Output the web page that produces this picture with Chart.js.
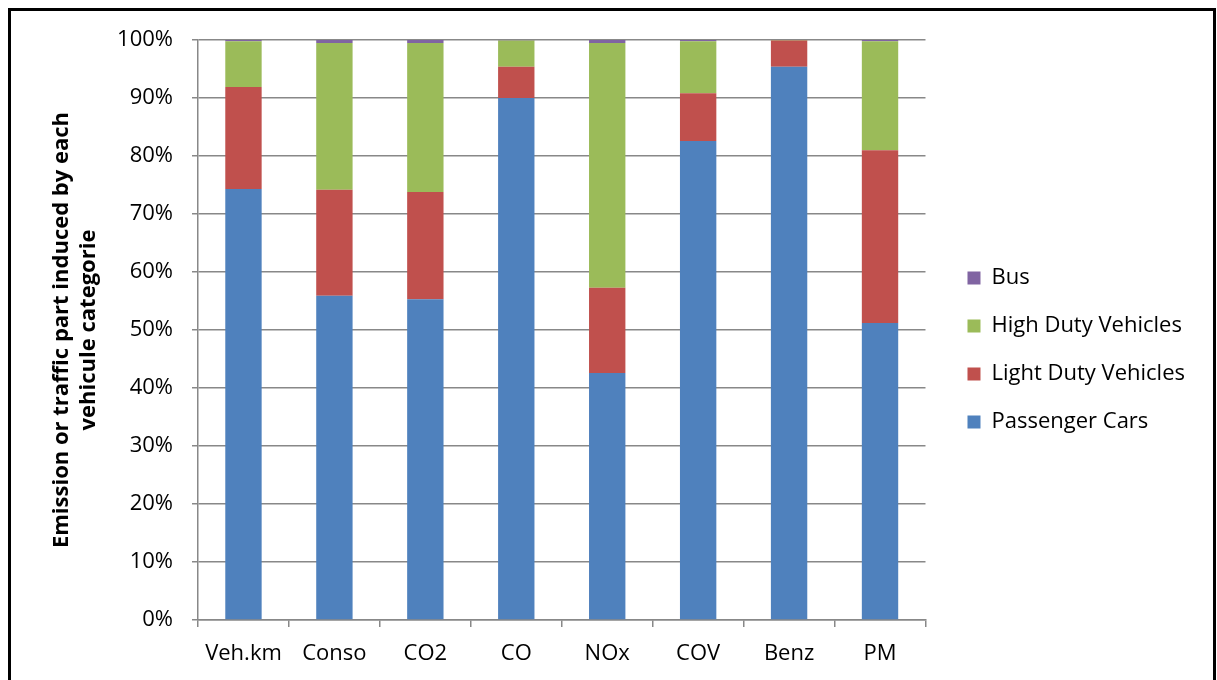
<!DOCTYPE html>
<html>
<head>
<meta charset="utf-8">
<script src="https://cdn.jsdelivr.net/npm/chart.js@4/dist/chart.umd.min.js"></script>
<style>
	html, body { margin: 0; padding: 0; background: #fff; overflow: hidden; }
	.frame {
		position: absolute; left: 8px; top: 8px; width: 1208px; height: 700px;
		border: 3px solid #000; box-sizing: border-box;
	}
	.wrap { position: absolute; left: 0; top: 0; width: 1217px; height: 680px; }
</style>
</head>
<body>
<div class="frame"></div>
<div class="wrap"><canvas id="mainChart"></canvas></div>
<script>
// categories and tick labels
const categories = ['Veh.km', 'Conso', 'CO2', 'CO', 'NOx', 'COV', 'Benz', 'PM'];
const yTicks = [0, 10, 20, 30, 40, 50, 60, 70, 80, 90, 100];

// share (%) of each vehicle category
const passengerCars = [74.3, 55.9, 55.3, 90.0, 42.6, 82.6, 95.4, 51.2];
const lightDuty = [17.6, 18.3, 18.5, 5.4, 14.7, 8.2, 4.5, 29.8];
const highDuty = [7.9, 25.3, 25.7, 4.5, 42.2, 9.0, 0.1, 18.8];
const bus = [0.2, 0.5, 0.5, 0.1, 0.5, 0.2, 0.0, 0.2];

const FONT = '"Open Sans", sans-serif';
const LEGEND_GAP = 16;

document.addEventListener("DOMContentLoaded", () => {
	initChart();
});

// extra space between plot and legend, and legend nudged up a bit
const legendShift = {
	id: 'legendShift',
	afterInit(chart) {
		const legend = chart.legend;
		const fit = legend.fit;
		legend.fit = function () {
			fit.call(this);
			this.width += LEGEND_GAP;
		};
	},
	afterLayout(chart) {
		const legend = chart.legend;
		legend.left += LEGEND_GAP;
		legend.top -= 10;
		legend.bottom -= 10;
	}
};

function initChart() {
	const ctx = document.getElementById("mainChart");
	if (!ctx) return;

	const bar = (label, data, color) => ({
		label: label,
		data: data,
		backgroundColor: color,
		borderWidth: 0,
		barPercentage: 0.5,
		categoryPercentage: 0.8
	});

	new Chart(ctx, {
		type: 'bar',
		data: {
			labels: categories,
			datasets: [
				bar('Passenger Cars', passengerCars, '#4F81BD'),
				bar('Light Duty Vehicles', lightDuty, '#C0504D'),
				bar('High Duty Vehicles', highDuty, '#9BBB59'),
				bar('Bus', bus, '#8064A2')
			]
		},
		plugins: [legendShift],
		options: {
			responsive: true,
			maintainAspectRatio: false,
			animation: false,
			layout: {
				padding: { left: 40, top: 40, right: 22, bottom: 0 }
			},
			plugins: {
				legend: {
					position: 'right',
					reverse: true,
					labels: {
						color: '#000',
						font: { family: FONT, size: 22 },
						boxWidth: 13,
						boxHeight: 13,
						padding: 26
					}
				},
				tooltip: { enabled: false }
			},
			scales: {
				x: {
					stacked: true,
					grid: {
						offset: true,
						drawOnChartArea: false,
						drawTicks: true,
						tickLength: 7,
						color: '#888',
						lineWidth: 1.5
					},
					border: { color: '#888', width: 1.5 },
					ticks: {
						color: '#000',
						padding: 14,
						font: { family: FONT, size: 22 }
					},
					afterFit: scale => { scale.height = 60; }
				},
				y: {
					stacked: true,
					min: 0,
					max: 100,
					afterBuildTicks: scale => {
						scale.ticks = yTicks.map(v => ({ value: v }));
					},
					grid: {
						color: '#888',
						lineWidth: 1.5,
						tickLength: 6
					},
					border: { color: '#888', width: 1.5 },
					ticks: {
						color: '#000',
						padding: 19,
						font: { family: FONT, size: 22 },
						callback: value => value + '%'
					},
					title: {
						display: true,
						text: ['Emission or traffic part induced by each', 'vehicule categorie'],
						color: '#000',
						font: { family: FONT, size: 22, weight: 'bold', lineHeight: 1.23 },
						padding: { top: 8, bottom: 0 }
					},
					afterFit: scale => { scale.width = 158; }
				}
			}
		}
	});
}
</script>
</body>
</html>
